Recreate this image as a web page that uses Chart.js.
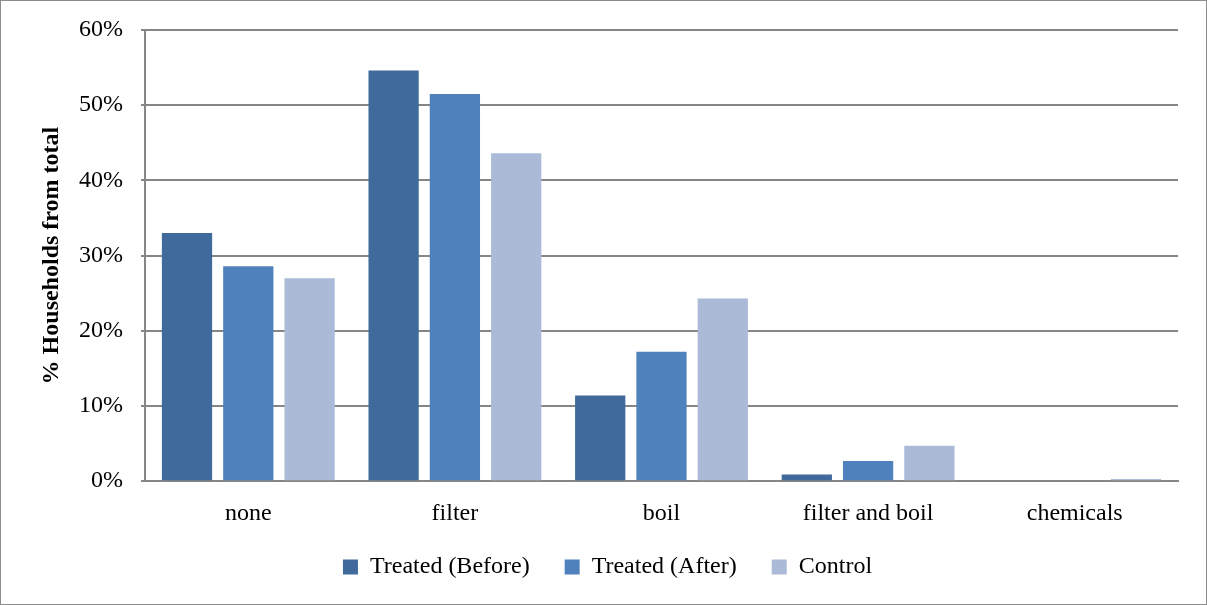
<!DOCTYPE html>
<html>
<head>
<meta charset="utf-8">
<script src="https://cdn.jsdelivr.net/npm/chart.js@4"></script>
<style>
  html, body { margin: 0; padding: 0; background: #fff; }
  #wrap { position: relative; width: 1205px; height: 603px; border: 1px solid #8c8c8c; }
</style>
</head>
<body>
<div id="wrap"><canvas id="myChart" width="1205" height="603"></canvas></div>
<script>
// categorias e valores (em %)
const categorias = ['none', 'filter', 'boil', 'filter and boil', 'chemicals'];
const tratadoAntes = [33.0, 54.6, 11.4, 0.9, 0];
const tratadoDepois = [28.6, 51.5, 17.2, 2.7, 0];
const controle = [27.0, 43.6, 24.3, 4.7, 0.3];
const ticksY = [0, 10, 20, 30, 40, 50, 60];

const fonte = "'Liberation Serif', 'DejaVu Serif', serif";
Chart.defaults.font.family = fonte;
Chart.defaults.color = '#000';

// a legenda precisa de espaço largo entre os itens mas pouca altura
const ajusteLegenda = {
    id: 'ajusteLegenda',
    beforeLayout(chart) {
        const leg = chart.legend;
        if (leg && !leg._ajustado) {
            const fitOriginal = leg.fit.bind(leg);
            leg.fit = function () {
                fitOriginal();
                this.height = 45;
            };
            leg._ajustado = true;
        }
    },
    afterLayout(chart) {
        // sobe só o topo, o fundo fica onde está para não cortar o texto
        chart.legend.top -= 26;
    }
};

const grafico = document.getElementById('myChart');
new Chart(grafico, {
    type: 'bar',
    data: {
        labels: categorias,
        datasets: [
            { label: 'Treated (Before)', data: tratadoAntes, backgroundColor: '#3F6A9B' },
            { label: 'Treated (After)', data: tratadoDepois, backgroundColor: '#4F81BD' },
            { label: 'Control', data: controle, backgroundColor: '#AABAD7' }
        ]
    },
    plugins: [ajusteLegenda],
    options: {
        responsive: false,
        animation: false,
        datasets: {
            bar: { barPercentage: 0.82, categoryPercentage: 0.89 }
        },
        layout: { padding: { left: 36, right: 28, top: 29, bottom: 13 } },
        plugins: {
            tooltip: { enabled: false },
            legend: {
                position: 'bottom',
                labels: {
                    font: { size: 24 },
                    boxWidth: 15,
                    boxHeight: 15,
                    padding: 35,
                    color: '#000'
                }
            }
        },
        scales: {
            x: {
                grid: { display: false, drawTicks: false },
                border: { color: '#868686', width: 2 },
                ticks: { font: { size: 24 }, padding: 18, color: '#000' }
            },
            y: {
                min: 0,
                max: 60,
                afterBuildTicks: (eixo) => { eixo.ticks = ticksY.map(v => ({ value: v })); },
                afterFit: (eixo) => { eixo.width = 108; eixo.paddingTop = 0; },
                grid: { color: '#868686', lineWidth: 2, tickLength: 4 },
                border: { color: '#868686', width: 2 },
                ticks: {
                    font: { size: 24 },
                    padding: 18,
                    color: '#000',
                    callback: (v) => v + '%'
                },
                title: {
                    display: true,
                    text: '% Households from total',
                    font: { size: 24, weight: 'bold' },
                    color: '#000',
                    padding: { top: 0, bottom: 0 }
                }
            }
        }
    }
});
</script>
</body>
</html>
